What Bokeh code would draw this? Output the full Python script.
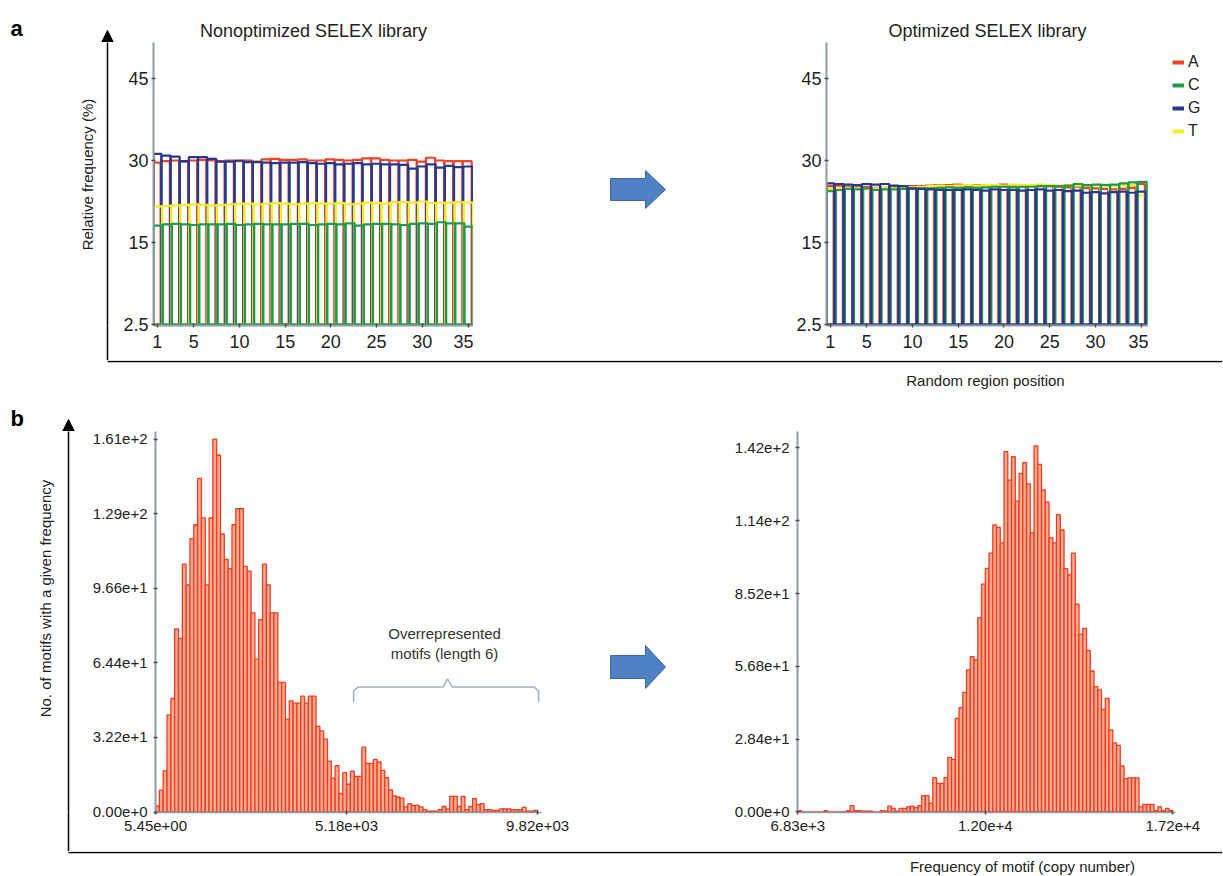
import numpy as np
from bokeh.plotting import figure
from bokeh.layouts import column, row
from bokeh.models import (Range1d, FixedTicker, PrintfTickFormatter, Arrow, NormalHead,
                          Legend, LegendItem, ColumnDataSource, Label)
from bokeh.transform import dodge
from bokeh.embed import file_html
from bokeh.resources import INLINE

FONT = "Liberation Sans"

# ---------------- data: panel a (base composition per random-region position) ----------------
positions = list(range(1, 36))
nonopt_A = [29.6, 29.9, 30.0, 29.8, 30.0, 30.1, 30.0, 29.9, 30.0, 29.9, 30.0, 29.8, 30.2, 30.3, 30.1, 30.1, 30.2, 30.0,
            30.0, 30.2, 30.1, 30.0, 30.1, 30.4, 30.4, 30.1, 30.0, 30.0, 30.1, 29.8, 30.5, 30.0, 29.9, 29.9, 29.9]
nonopt_C = [18.1, 18.3, 18.4, 18.3, 18.2, 18.3, 18.3, 18.3, 18.4, 18.2, 18.3, 18.4, 18.3, 18.3, 18.3, 18.4, 18.4, 18.2,
            18.3, 18.4, 18.3, 18.5, 18.1, 18.3, 18.4, 18.4, 18.3, 18.2, 18.4, 18.5, 18.4, 18.7, 18.5, 18.5, 17.9]
nonopt_G = [31.2, 30.9, 30.7, 29.9, 30.6, 30.6, 30.3, 29.8, 29.8, 30.0, 29.7, 29.7, 29.6, 29.5, 29.6, 29.6, 29.7, 29.5,
            29.4, 29.5, 29.3, 29.4, 29.5, 29.3, 29.4, 29.3, 29.3, 29.2, 28.5, 28.9, 29.3, 28.7, 29.0, 28.8, 28.9]
nonopt_T = [21.6, 21.7, 21.8, 21.9, 22.0, 21.9, 21.8, 21.9, 22.0, 22.1, 22.1, 22.0, 22.1, 22.2, 22.1, 22.0, 22.1, 22.2,
            22.1, 22.1, 22.2, 22.0, 22.1, 22.3, 22.2, 22.1, 22.4, 22.4, 22.3, 22.5, 22.2, 22.3, 22.3, 22.4, 22.3]

opt_A = [25.3, 25.4, 25.2, 25.1, 25.2, 25.0, 25.0, 25.1, 25.2, 25.3, 25.3, 25.4, 25.5, 25.5, 25.6, 25.4, 25.5, 25.5,
         25.4, 25.6, 25.4, 25.3, 25.4, 25.4, 25.3, 25.2, 25.1, 25.2, 25.0, 24.9, 24.8, 24.7, 24.8, 25.0, 25.7]
opt_C = [24.4, 24.6, 24.8, 24.7, 24.9, 24.6, 24.7, 24.7, 24.8, 24.8, 24.9, 24.9, 25.0, 25.1, 25.0, 25.1, 25.0, 25.1,
         25.2, 25.2, 25.1, 25.2, 25.2, 25.3, 25.3, 25.3, 25.4, 25.7, 25.5, 25.6, 25.5, 25.6, 25.8, 26.0, 26.1]
opt_G = [25.8, 25.7, 25.6, 25.5, 25.7, 25.6, 25.7, 25.4, 25.3, 24.9, 24.8, 24.7, 24.6, 24.6, 24.6, 24.7, 24.6, 24.5,
         24.7, 24.6, 24.6, 24.5, 24.6, 24.7, 24.5, 24.6, 24.4, 24.5, 24.1, 24.2, 24.0, 24.2, 24.3, 24.1, 24.3]
opt_T = [24.8, 24.9, 25.0, 24.9, 24.7, 24.9, 25.0, 24.9, 25.2, 25.1, 25.2, 25.3, 25.4, 25.3, 25.4, 25.5, 25.4, 25.5,
         25.5, 25.4, 25.6, 25.5, 25.5, 25.6, 25.5, 25.4, 25.5, 25.4, 25.4, 25.5, 25.6, 25.4, 25.5, 25.5, 23.6]

bases = ["A", "C", "G", "T"]
base_colors = {"A": "#f0432a", "C": "#1f9a4c", "G": "#27398f", "T": "#f6ec2a"}
pos_ticks = [1, 5, 10, 15, 20, 25, 30, 35]
freq_ticks = [0, 15, 30, 45]
freq_tick_overrides = {0: "2.5"}

# ---------------- data: panel b (motif frequency histograms, 100 bins) ----------------
nonopt_counts = [2.6, 9.5, 17.8, 41.9, 49, 79, 75, 107, 98, 118, 124, 144, 127, 98, 127, 161, 154, 120, 109, 105,
                 124, 131, 131, 106, 104, 86, 66, 83, 107, 98, 86, 86, 56, 56, 40, 48, 47, 47, 50, 47,
                 50, 50, 37, 35, 31.5, 22, 14.6, 20, 8, 17,
                 12, 17.6, 15.4, 15.4, 28, 21, 21, 22.7, 21.6, 18, 14.8, 9.6, 7, 6.5, 6, 2.2, 3.6, 2.9, 2.9, 2.2,
                 1, 0.4, 0.4, 0.4, 1, 2.4, 1.4, 6.8, 6.8, 2.4, 6.8, 1, 2.4, 5.8, 3.3, 3.6, 1, 1, 0.7, 0.7,
                 1.4, 1.4, 1.4, 1, 1, 1, 2, 0.4, 0.4, 0.7]
nonopt_min, nonopt_max = 5.45, 9820.0
nonopt_xtick_labels = ["5.45e+00", "5.18e+03", "9.82e+03"]
nonopt_yticks = [0, 32.2, 64.4, 96.6, 128.8, 161]

opt_counts = [0.5, 0, 0, 0, 0, 0, 0, 0.5, 0, 0, 0, 0, 0, 0.5, 2.5, 0.5, 0.5, 0.3, 0.3, 0.3,
              0, 0, 0.5, 0.3, 2.3, 1.4, 0.3, 1.4, 1.4, 2.0, 2.3, 1.7, 2.5, 6.4, 6.4, 3.4, 13.4, 11.2, 11.2, 13.4,
              21.3, 20.5, 36.5, 40.7, 46.7, 55.4, 60.6, 59.3, 75.8,
              88.9, 95, 101, 112, 111, 105, 140.6, 129.5, 138.6, 121.3, 132.1, 136.3, 128, 109, 142.8, 135.6,
              125.6, 121, 107, 105, 116, 110, 94.9, 92.5, 101, 81.1, 69.4, 71.6, 63, 55, 48.9, 47.6, 40, 44.3,
              32, 27, 26, 18, 13, 13.3, 13.3, 13.3,
              2, 3, 3, 3, 0.5, 2, 0.5, 1.4, 0.5]
opt_min, opt_max = 6830.0, 17200.0
opt_yticks = [0, 28.4, 56.8, 85.2, 113.6, 142]

AXIS_GRAY = "#8f9da8"
HIST_LINE = "#ef3d22"
HIST_FILL = "#f8ab90"
W = 1222


def make_fig(w, h, xr, yr, left=0, right=0, top=0, bottom=0, xaxis=None, yaxis=None):
    p = figure(width=w, height=h, x_range=Range1d(*xr), y_range=Range1d(*yr),
               output_backend="svg", toolbar_location=None,
               min_border_left=left, min_border_right=right,
               min_border_top=top, min_border_bottom=bottom,
               x_axis_location=xaxis, y_axis_location=yaxis)
    p.outline_line_color = None
    p.grid.visible = False
    return p


def style_axes(p, size, xstand, ystand):
    for ax in list(p.xaxis) + list(p.yaxis):
        ax.axis_line_color = AXIS_GRAY
        ax.axis_line_width = 2
        ax.major_tick_line_color = "#4a4a4a"
        ax.major_tick_line_width = 1.5
        ax.major_tick_in = 2
        ax.major_tick_out = 2
        ax.minor_tick_line_color = None
        ax.major_label_text_font = FONT
        ax.major_label_text_font_size = size
        ax.major_label_text_color = "#222222"
    p.xaxis.major_label_standoff = xstand
    p.yaxis.major_label_standoff = ystand


def lbl(p, x, y, text, size="15px", align="center", baseline="middle", angle=0, bold=False, color="#222222"):
    p.add_layout(Label(x=x, y=y, text=text, text_font=FONT, text_font_size=size, text_align=align,
                       text_baseline=baseline, angle=angle, text_color=color,
                       text_font_style="bold" if bold else "normal"))


def block_arrow(p, x0, x1, xt, yc, shaft_h, head_h):
    xs = [x0, x1, x1, xt, x1, x1, x0]
    ys = [yc + shaft_h / 2, yc + shaft_h / 2, yc + head_h / 2, yc, yc - head_h / 2, yc - shaft_h / 2, yc - shaft_h / 2]
    p.patch(xs, ys, fill_color="#4f81c4", line_color="#3b68a6", line_width=1)


def outer_axis_tail(p, xpos, length):
    # the long outer axis continues below the frame: drawn as one long (label-free) minor tick
    ax = p.xaxis[0]
    ax.ticker = FixedTicker(ticks=[], minor_ticks=[xpos])
    ax.axis_line_color = None
    ax.major_tick_line_color = None
    ax.minor_tick_in = 0
    ax.minor_tick_out = length
    ax.minor_tick_line_color = "black"
    ax.minor_tick_line_width = 1.5
    ax.major_label_standoff = 0


def head(p, x, y0, y1):
    p.add_layout(Arrow(end=NormalHead(size=12, fill_color="black", line_color="black"),
                       x_start=x, y_start=y0, x_end=x, y_end=y1, line_width=1.5, line_color="black"))


# ================= band above panel a (page y 0..42) =================
A_FT, A_FB = 42, 325           # frame top/bottom of row a (page px)
ROW_A_H = 360 - A_FT           # row a spans 42..360
A_BOT = 360 - A_FB

bandA = make_fig(W, A_FT, (0, W), (-A_FT, 0))
lbl(bandA, 10, -28, "a", size="22px", align="left", baseline="alphabetic", bold=True, color="black")
head(bandA, 107, -A_FT, -30)
lbl(bandA, 313, -30, "Nonoptimized SELEX library", size="18px")
lbl(bandA, 987, -30, "Optimized SELEX library", size="18px")


def seq_panel(w, left, xr, yr, vals, order):
    p = make_fig(w, ROW_A_H, xr, yr, left=left, right=0, top=0, bottom=A_BOT, xaxis="below", yaxis="left")
    src = ColumnDataSource(dict(pos=positions, **vals))
    for key, off in order:
        p.vbar(x=dodge("pos", off, range=p.x_range), top=key, bottom=0, width=1.0, source=src,
               fill_alpha=0, line_color=base_colors[key], line_width=2.2)
    p.xaxis.ticker = FixedTicker(ticks=pos_ticks)
    p.yaxis.ticker = FixedTicker(ticks=freq_ticks)
    p.yaxis.major_label_overrides = freq_tick_overrides
    style_axes(p, "18px", 7, 3)
    return p


decorA = make_fig(118, ROW_A_H, (0, 118), (-A_FB, -A_FT), bottom=A_BOT, xaxis="below")
decorA.line([107, 107], [-A_FB - 2, -A_FT + 2], line_color="black", line_width=1.5)
outer_axis_tail(decorA, 107, A_BOT)
lbl(decorA, 87, -174, "Relative frequency (%)", size="15px", angle=np.pi / 2)

aL = seq_panel(355, 35, (0.6, 35.6), (-0.18, 51.58),
               dict(A=nonopt_A, C=nonopt_C, G=nonopt_G, T=nonopt_T),
               [("A", -0.1), ("G", -0.033), ("T", 0.033), ("C", 0.1)])

arrowA = make_fig(318, ROW_A_H, (473, 791), (-A_FB, -A_FT), bottom=A_BOT)
block_arrow(arrowA, 610, 645, 665, -189, 22, 38)

aR = seq_panel(357, 35, (0.6, 35.8), (-0.18, 51.58),
               dict(A=opt_A, C=opt_C, G=opt_G, T=opt_T),
               [("A", -0.1), ("T", 0.033), ("C", 0.1), ("G", -0.033)])

legendFig = make_fig(74, ROW_A_H, (0, 1), (0, 1), bottom=A_BOT)
items = []
for b in bases:
    r = legendFig.line(x=[float("nan")], y=[float("nan")], line_color=base_colors[b], line_width=4)
    items.append(LegendItem(label=b, renderers=[r]))
leg = Legend(items=items, location=(24, 184), padding=0, margin=0, border_line_color=None,
             background_fill_alpha=0, glyph_width=12, glyph_height=20, spacing=3, label_standoff=4,
             label_text_font=FONT, label_text_font_size="16px", label_text_color="#222222")
legendFig.add_layout(leg)

stripA = make_fig(W, 35, (0, W), (-395, -360))
stripA.line([107, W], [-361, -361], line_color="black", line_width=1.5)
lbl(stripA, 985, -380, "Random region position", size="15px")

# ================= panel b =================
B_T0, B_FT, B_FB, B_END = 395, 431, 812, 851
ROW_B_H = B_END - B_FT
B_BOT = B_END - B_FB

bandB = make_fig(W, B_FT - B_T0, (0, W), (-B_FT, -B_T0))
lbl(bandB, 10, -418, "b", size="22px", align="left", baseline="alphabetic", bold=True, color="black")
head(bandB, 68, -B_FT, -419)


def hist_panel(w, left, right, counts, lo, hi, xr, yr, yticks, xlabels=None):
    p = make_fig(w, ROW_B_H, xr, yr, left=left, right=right, top=0, bottom=B_BOT, xaxis="below", yaxis="left")
    edges = np.linspace(lo, hi, len(counts) + 1)
    src = ColumnDataSource(dict(left=edges[:-1], right=edges[1:], top=counts))
    p.quad(left="left", right="right", top="top", bottom=0, source=src,
           fill_color=HIST_FILL, line_color=HIST_LINE, line_width=1.3)
    mid = (lo + hi) / 2
    p.xaxis.ticker = FixedTicker(ticks=[lo, mid, hi])
    p.xaxis.formatter = PrintfTickFormatter(format="%.2e")
    if xlabels is not None:
        p.xaxis.major_label_overrides = {lo: xlabels[0], mid: xlabels[1], hi: xlabels[2]}
    p.yaxis.ticker = FixedTicker(ticks=yticks)
    p.yaxis.formatter = PrintfTickFormatter(format="%.2e")
    style_axes(p, "15px", 6, 6)
    p.xaxis.axis_line_width = 1.5
    return p


decorB = make_fig(78, ROW_B_H, (0, 78), (-B_FB, -B_FT), bottom=B_BOT, xaxis="below")
decorB.line([68, 68], [-B_FB - 2, -B_FT + 2], line_color="black", line_width=1.5)
outer_axis_tail(decorB, 68, B_BOT)
lbl(decorB, 45, -598, "No. of motifs with a given frequency", size="15px", angle=np.pi / 2)

bL = hist_panel(492, 77, 29, nonopt_counts, nonopt_min, nonopt_max,
                (nonopt_min - 2, 9920.6), (-0.2, -0.2 + (B_FB - B_FT) / 2.3168), nonopt_yticks, nonopt_xtick_labels)
# annotation: brace over the overrepresented motifs
brace_L, brace_M, brace_R = 5093, 7508, 9846
brace_base, brace_lvl, brace_peak = 47.5, 54.0, 57.5
bL.line([brace_L, brace_L, brace_L + 110, brace_M - 120, brace_M, brace_M + 120, brace_R - 110, brace_R, brace_R],
        [brace_base, brace_lvl - 1.8, brace_lvl, brace_lvl, brace_peak, brace_lvl, brace_lvl, brace_lvl - 1.8, brace_base],
        line_color="#9fb0bf", line_width=1.5)
lbl(bL, 7430, 77.0, "Overrepresented", size="15px", color="#333333")
lbl(bL, 7430, 68.4, "motifs (length 6)", size="15px", color="#333333")

arrowB = make_fig(142, ROW_B_H, (570, 712), (-B_FB, -B_FT), bottom=B_BOT)
block_arrow(arrowB, 610, 645, 665, -666.5, 23, 43)

bR = hist_panel(510, 85, 47, opt_counts, opt_min, opt_max,
                (opt_min - 8, 17275), (-0.2, -0.2 + (B_FB - B_FT) / 2.5634), opt_yticks)

stripB = make_fig(W, 24, (0, W), (-875, -851))
stripB.line([68, W], [-852, -852], line_color="black", line_width=1.5)
lbl(stripB, 1022, -866, "Frequency of motif (copy number)", size="15px")

layout = column(
    bandA,
    row(decorA, aL, arrowA, aR, legendFig),
    stripA,
    bandB,
    row(decorB, bL, arrowB, bR),
    stripB,
)

open("out.html", "w").write(file_html(layout, INLINE))
